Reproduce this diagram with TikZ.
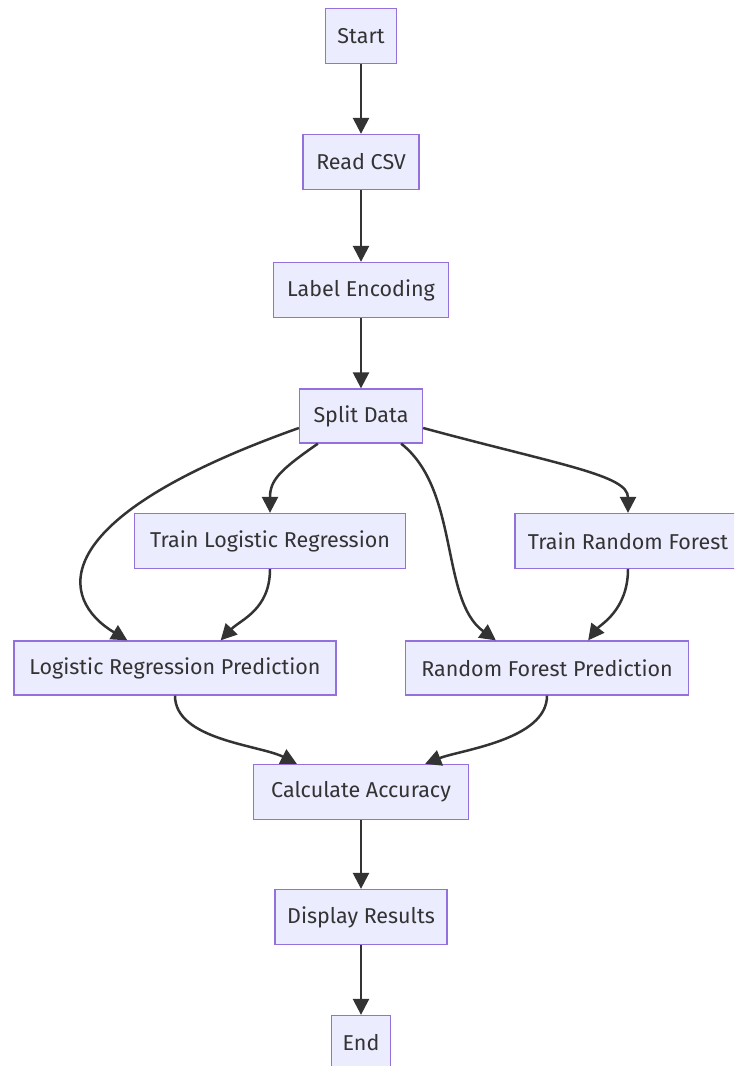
\documentclass[tikz,border=0pt]{standalone}
\usepackage{fontspec}
\setmainfont{Fira Sans}
\usepackage{tikz}
\usetikzlibrary{arrows.meta,calc}
\definecolor{boxfill}{HTML}{ECECFF}
\definecolor{boxline}{HTML}{9370DB}
\definecolor{edgeline}{HTML}{333333}

\begin{document}
\begin{tikzpicture}[x=1pt,y=-1pt,
  st/.style={rectangle,draw=boxline,fill=boxfill,line width=1.3pt,minimum height=55pt,inner sep=0pt,align=center,text=edgeline,font=\fontsize{21.5}{24}\selectfont},
  ar/.style={-{Triangle[length=16pt,width=16pt]},line width=2.5pt,draw=edgeline,edgeline}
]
\useasboundingbox (0,0) rectangle (734,1066);
\clip (0,0) rectangle (734,1066);
\node[st,minimum width=71pt] (start) at (361,36) {Start};
\node[st,minimum width=116pt] (readcsv) at (361,162) {Read CSV};
\node[st,minimum width=175pt] (encode) at (361,290) {Label Encoding};
\node[st,minimum width=123pt,minimum height=54pt] (split) at (361,416) {Split Data};
\node[st,minimum width=271pt] (trainlr) at (270,541) {Train Logistic Regression};
\node[st,minimum width=226pt] (trainrf) at (628,541) {Train Random Forest};
\node[st,minimum width=322pt,minimum height=54pt] (predlr) at (175,668) {Logistic Regression Prediction};
\node[st,minimum width=283pt,minimum height=54pt] (predrf) at (547,668) {Random Forest Prediction};
\node[st,minimum width=215pt] (accuracy) at (361,792) {Calculate Accuracy};
\node[st,minimum width=172pt] (display) at (361,917) {Display Results};
\node[st,minimum width=59pt] (stop) at (361,1043) {End};

\draw[ar] (start) -- (readcsv);
\draw[ar] (readcsv) -- (encode);
\draw[ar] (encode) -- (split);
% branches out of the split
\draw[ar] ($(split.west)+(0,12)$) .. controls (40,520) and (60,600) .. ($(predlr.north west)+(114,0)$);
\draw[ar] ($(split.south west)+(19,0)$) .. controls (280,470) and (270,480) .. (trainlr.north);
\draw[ar] ($(split.south east)+(-22,0)$) .. controls (460,490) and (440,600) .. ($(predrf.north west)+(91,0)$);
\draw[ar] ($(split.east)+(0,12)$) .. controls (560,465) and (628,475) .. (trainrf.north);
\draw[ar] (trainlr.south) .. controls (270,610) and (240,620) .. ($(predlr.north east)+(-116,0)$);
\draw[ar] (trainrf.south) .. controls (628,610) and (600,625) .. ($(predrf.north east)+(-101,0)$);
% merge into accuracy
\draw[ar] (predlr.south) .. controls (175,740) and (260,745) .. ($(accuracy.north west)+(44,0)$);
\draw[ar] (predrf.south) .. controls (547,740) and (460,750) .. ($(accuracy.north east)+(-44,0)$);
\draw[ar] (accuracy) -- (display);
\draw[ar] (display) -- (stop);
\end{tikzpicture}
\end{document}
